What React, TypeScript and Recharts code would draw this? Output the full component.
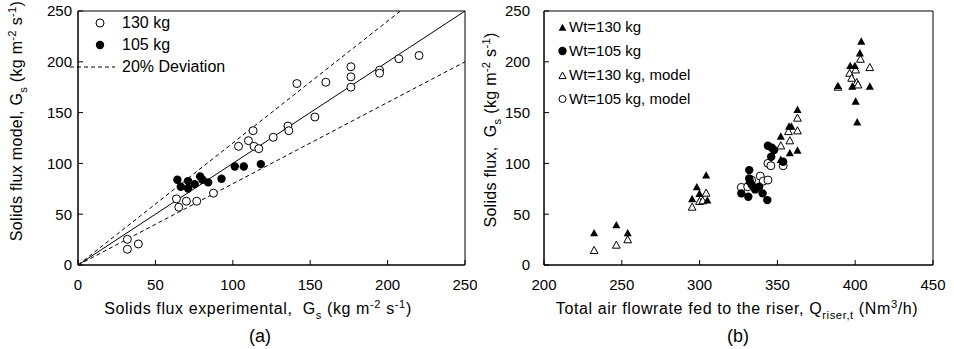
import React from "react";
import {
  ScatterChart,
  Scatter,
  XAxis,
  YAxis,
  ReferenceLine,
  ReferenceArea,
} from "recharts";

// (a) parity plot: experimental vs model solids flux
const model130 = [
  { x: 31.9, y: 25.3 }, { x: 31.9, y: 15.5 }, { x: 39, y: 20.7 },
  { x: 63.6, y: 65.1 }, { x: 65.1, y: 56.9 }, { x: 70, y: 62.8 },
  { x: 76.7, y: 62.8 }, { x: 87.5, y: 70.7 }, { x: 103.7, y: 116.8 },
  { x: 110.1, y: 122.4 }, { x: 113.1, y: 132.2 }, { x: 113.8, y: 116.8 },
  { x: 116.8, y: 114.5 }, { x: 126.1, y: 125.7 }, { x: 135.6, y: 136.8 },
  { x: 136.2, y: 132.2 }, { x: 141.4, y: 178.6 }, { x: 153, y: 145.7 },
  { x: 160.1, y: 179.9 }, { x: 176.3, y: 195.1 }, { x: 176.3, y: 185.2 },
  { x: 176.3, y: 175 }, { x: 194.8, y: 191.8 }, { x: 194.8, y: 188.8 },
  { x: 207.3, y: 203 }, { x: 220.3, y: 206.2 },
];
const model105 = [
  { x: 64.2, y: 83.9 }, { x: 66.4, y: 77 }, { x: 71.1, y: 82.6 },
  { x: 71.1, y: 75.3 }, { x: 75.4, y: 79.6 }, { x: 78.9, y: 87.2 },
  { x: 80.4, y: 83.9 }, { x: 84.1, y: 81.3 }, { x: 92.7, y: 84.9 },
  { x: 101.3, y: 97 }, { x: 107.1, y: 97 }, { x: 118.1, y: 99.3 },
];
const parityLine = [{ x: 0, y: 0 }, { x: 250, y: 250 }];
const upperDev = [{ x: 0, y: 0 }, { x: 208.3, y: 250 }];
const lowerDev = [{ x: 0, y: 0 }, { x: 250, y: 200 }];
const gsTicks = [0, 50, 100, 150, 200, 250];

// (b) solids flux vs total air flowrate
const wt130 = [
  { x: 232.2, y: 31.1 }, { x: 246.5, y: 39 }, { x: 253.8, y: 31.1 },
  { x: 295.2, y: 64.6 }, { x: 298.2, y: 76.4 }, { x: 299.9, y: 69.8 },
  { x: 304.2, y: 87.9 }, { x: 305, y: 63.3 }, { x: 352.2, y: 126.2 },
  { x: 352.2, y: 103.3 }, { x: 358, y: 109.8 }, { x: 357.5, y: 136 },
  { x: 359, y: 136 }, { x: 362.9, y: 152.5 }, { x: 362.9, y: 112.5 },
  { x: 388.9, y: 176 }, { x: 396.8, y: 195.7 }, { x: 399.8, y: 195.7 },
  { x: 398.1, y: 175.4 }, { x: 400.3, y: 160.7 }, { x: 401.3, y: 140.3 },
  { x: 403, y: 208.2 }, { x: 403.9, y: 219.7 }, { x: 409.4, y: 175.4 },
];
const wt105 = [
  { x: 326.8, y: 70.5 }, { x: 331.3, y: 67.2 }, { x: 331.9, y: 93.4 },
  { x: 331.9, y: 85.2 }, { x: 332.3, y: 82 }, { x: 333.6, y: 78.7 },
  { x: 335.7, y: 74.4 }, { x: 338.3, y: 77 }, { x: 340.5, y: 70.5 },
  { x: 343.5, y: 63.9 }, { x: 343.9, y: 117.4 }, { x: 346, y: 106.6 },
  { x: 346.4, y: 115.4 }, { x: 347.9, y: 113.1 }, { x: 353.7, y: 101.6 },
];
const wt130Model = [
  { x: 232.2, y: 14.1 }, { x: 246.5, y: 19.3 }, { x: 253.8, y: 24.6 },
  { x: 295.2, y: 56.7 }, { x: 299.9, y: 62.3 }, { x: 304.2, y: 70.5 },
  { x: 302, y: 63 }, { x: 352.2, y: 117 }, { x: 358, y: 122 },
  { x: 357.1, y: 131.1 }, { x: 362.9, y: 131.8 }, { x: 362.9, y: 144.3 },
  { x: 388.9, y: 174.8 }, { x: 396.4, y: 188.5 }, { x: 397.7, y: 183.6 },
  { x: 400.3, y: 191.8 }, { x: 401, y: 179.3 }, { x: 401.8, y: 177 },
  { x: 403.4, y: 202.3 }, { x: 409.4, y: 194.1 },
];
const wt105Model = [
  { x: 326.8, y: 76.4 }, { x: 330.9, y: 77 }, { x: 333.4, y: 83.6 },
  { x: 339, y: 87.5 }, { x: 340.9, y: 82.6 }, { x: 343.9, y: 83.6 },
  { x: 343.9, y: 100 }, { x: 345.8, y: 97.7 }, { x: 353.7, y: 97.7 },
];
const airTicks = [200, 250, 300, 350, 400, 450];

const FONT = '"Liberation Sans", Arial, sans-serif';
const tickStyle = { fontSize: 15, fill: "#000", fontFamily: FONT };

const OpenCircle = (p: any) => (
  <circle cx={p.cx} cy={p.cy} r={4} fill="#fff" stroke="#000" strokeWidth={1} />
);
const DotFilled = (p: any) => (
  <circle cx={p.cx} cy={p.cy} r={4.2} fill="#000" />
);
const triPath = (cx: number, cy: number, s: number) =>
  `M${cx},${cy - s}L${cx + s * 0.9},${cy + s * 0.65}L${cx - s * 0.9},${cy + s * 0.65}Z`;
const TriFilled = (p: any) => <path d={triPath(p.cx, p.cy, 4.5)} fill="#000" />;
const TriOpen = (p: any) => (
  <path d={triPath(p.cx, p.cy, 4.3)} fill="#fff" stroke="#000" strokeWidth={1} />
);

const legendRow: React.CSSProperties = {
  display: "flex",
  alignItems: "center",
  height: 22.3,
  fontSize: 16,
  fontFamily: FONT,
  color: "#000",
  lineHeight: 1,
};

const LeftLegend = () => (
  <div style={{ position: "absolute", left: 70, top: 11.5 }}>
    <div style={legendRow}>
      <svg width={52} height={12}>
        <circle cx={30} cy={6} r={4} fill="#fff" stroke="#000" />
      </svg>
      <span>130 kg</span>
    </div>
    <div style={legendRow}>
      <svg width={52} height={12}>
        <circle cx={30} cy={6} r={4.2} fill="#000" />
      </svg>
      <span>105 kg</span>
    </div>
    <div style={legendRow}>
      <svg width={52} height={12}>
        <line x1={0} y1={6} x2={45} y2={6} stroke="#000" strokeDasharray="4 3" />
      </svg>
      <span>20% Deviation</span>
    </div>
  </div>
);

const rightRow: React.CSSProperties = { ...legendRow, height: 24, fontSize: 15 };

const RightLegend = () => (
  <div style={{ position: "absolute", left: 556, top: 14.5 }}>
    <div style={rightRow}>
      <svg width={13} height={12}>
        <path d={triPath(6.5, 7, 4.3)} fill="#000" />
      </svg>
      <span>Wt=130 kg</span>
    </div>
    <div style={rightRow}>
      <svg width={13} height={12}>
        <circle cx={6.5} cy={6} r={4.2} fill="#000" />
      </svg>
      <span>Wt=105 kg</span>
    </div>
    <div style={rightRow}>
      <svg width={13} height={12}>
        <path d={triPath(6.5, 7, 4)} fill="#fff" stroke="#000" />
      </svg>
      <span>Wt=130 kg, model</span>
    </div>
    <div style={rightRow}>
      <svg width={13} height={12}>
        <circle cx={6.5} cy={6} r={3.5} fill="#fff" stroke="#000" />
      </svg>
      <span>Wt=105 kg, model</span>
    </div>
  </div>
);

const Gs = () => (
  <>
    G<sub style={{ fontSize: "0.7em" }}>s</sub> (kg m<sup style={{ fontSize: "0.7em" }}>-2</sup> s
    <sup style={{ fontSize: "0.7em" }}>-1</sup>)
  </>
);

const label = (
  left: number,
  top: number,
  content: React.ReactNode,
  rotate = false,
  size = 16,
  spacing = 0
) => (
  <div
    style={{
      position: "absolute",
      left,
      top,
      transform: `translate(-50%, -50%)${rotate ? " rotate(-90deg)" : ""}`,
      whiteSpace: "nowrap",
      fontSize: size,
      fontFamily: FONT,
      color: "#000",
      lineHeight: 1,
      letterSpacing: spacing,
    }}
  >
    {content}
  </div>
);

export default function App() {
  return (
    <div
      style={{
        position: "absolute",
        left: 0,
        top: 0,
        width: 954,
        height: 349,
        background: "#fff",
        overflow: "hidden",
      }}
    >
      <div style={{ position: "absolute", left: 0, top: 0 }}>
        <ScatterChart
          width={477}
          height={349}
          margin={{ top: 11, right: 12, bottom: 54, left: 0 }}
        >
          <XAxis
            type="number"
            dataKey="x"
            domain={[0, 250]}
            ticks={gsTicks}
            interval={0}
            tickSize={-5}
            tickMargin={19}
            height={30}
            stroke="#000"
            tick={tickStyle}
          />
          <YAxis
            type="number"
            dataKey="y"
            domain={[0, 250]}
            ticks={gsTicks}
            interval={0}
            tickSize={-5}
            tickMargin={11}
            width={78}
            stroke="#000"
            tick={tickStyle}
          />
          <ReferenceArea x1={0} x2={250} y1={0} y2={250} fill="none" stroke="#000" />
          <ReferenceLine segment={parityLine} stroke="#000" strokeWidth={1} />
          <ReferenceLine segment={upperDev} stroke="#000" strokeDasharray="4 3" />
          <ReferenceLine segment={lowerDev} stroke="#000" strokeDasharray="4 3" />
          <Scatter name="130 kg" data={model130} shape={OpenCircle} isAnimationActive={false} />
          <Scatter name="105 kg" data={model105} shape={DotFilled} isAnimationActive={false} />
        </ScatterChart>
      </div>

      <div style={{ position: "absolute", left: 477, top: 0 }}>
        <ScatterChart
          width={477}
          height={349}
          margin={{ top: 11, right: 21, bottom: 54, left: 0 }}
        >
          <XAxis
            type="number"
            dataKey="x"
            domain={[200, 450]}
            ticks={airTicks}
            interval={0}
            tickSize={-5}
            tickMargin={19}
            height={30}
            stroke="#000"
            tick={tickStyle}
          />
          <YAxis
            type="number"
            dataKey="y"
            domain={[0, 250]}
            ticks={gsTicks}
            interval={0}
            tickSize={-5}
            tickMargin={19}
            width={67}
            stroke="#000"
            tick={tickStyle}
          />
          <ReferenceArea x1={200} x2={450} y1={0} y2={250} fill="none" stroke="#000" />
          <Scatter name="Wt=130 kg, model" data={wt130Model} shape={TriOpen} isAnimationActive={false} />
          <Scatter name="Wt=105 kg, model" data={wt105Model} shape={OpenCircle} isAnimationActive={false} />
          <Scatter name="Wt=130 kg" data={wt130} shape={TriFilled} isAnimationActive={false} />
          <Scatter name="Wt=105 kg" data={wt105} shape={DotFilled} isAnimationActive={false} />
        </ScatterChart>
      </div>

      <LeftLegend />
      <RightLegend />

      {label(18, 121, <>Solids flux model, <Gs /></>, true, 16, 0.3)}
      {label(258, 310, <>Solids flux experimental,&nbsp; <Gs /></>, false, 16, 0.6)}
      {label(260, 336, "(a)", false, 18)}
      {label(492, 130, <>Solids flux, &nbsp;<Gs /></>, true, 16, 0.3)}
      {label(737, 310, <>Total air flowrate fed to the riser, Q<sub style={{ fontSize: "0.7em" }}>riser,t</sub> (Nm<sup style={{ fontSize: "0.7em" }}>3</sup>/h)</>, false, 16, 0.6)}
      {label(738, 336, "(b)", false, 18)}
    </div>
  );
}
